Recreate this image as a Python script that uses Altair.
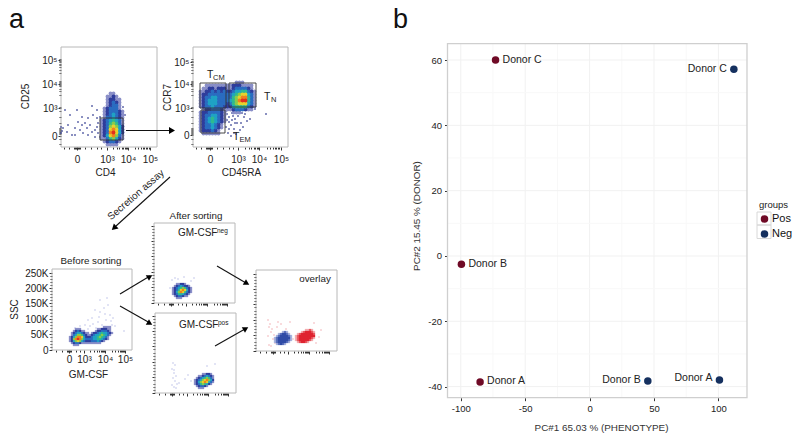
import altair as alt
import pandas as pd

FONT = "Liberation Sans"
DX, DY = 8, 8
W, H = 784, 425

# ---------- panel b: PCA ----------
pca_group = ["Pos", "Pos", "Pos", "Neg", "Neg", "Neg"]
pca_donor = ["Donor C", "Donor B", "Donor A", "Donor C", "Donor B", "Donor A"]
pca_x = [-73, -99.5, -85, 112, 45.2, 100.8]
pca_y = [60, -2.5, -38.6, 57.2, -38.3, -38]
pca_major_x = [-100, -50, 0, 50, 100]
pca_major_y = [-40, -20, 0, 20, 40, 60]
pca_labels_x = ["-100", "-50", "0", "50", "100"]
pca_labels_y = ["-40", "-20", "0", "20", "40", "60"]
pca_minor_x = [-75, -25, 25, 75]
pca_minor_y = [-30, -10, 10, 30, 50]

# ---------- panel a: tick positions on the biexponential display channel ----------
top_x_ticks = [16, 46, 67, 89]
top_x_labels = ["0", "10³", "10⁴", "10⁵"]
top_y_ticks = [11, 39, 63, 87]
top_y_labels = ["0", "10³", "10⁴", "10⁵"]
ccr_x_ticks = [17, 45, 66, 88]
ccr_y_ticks = [12, 39, 63, 85]
top_minor = [3, 8, 13, 14, 15, 16, 17, 18, 19, 24, 30, 36, 40, 52, 56, 58, 61, 62, 64, 65, 66,
             74, 77, 80, 82, 83, 85, 86, 88]
low_x_ticks = [17, 32, 53, 73]
low_x_labels = ["0", "10³", "10⁴", "10⁵"]
low_y_ticks = [0, 16, 31, 47, 62, 77]
low_y_labels = ["0", "50K", "100K", "150K", "200K", "250K"]
low_x_minor = [4, 10, 15, 16, 17, 18, 19, 24, 28, 38, 42, 45, 47, 49, 50, 51, 52, 60, 63, 66, 68, 69, 70, 71, 72]
low_y_minor = [3, 6, 9, 13, 19, 22, 25, 28, 34, 37, 40, 44, 50, 53, 56, 59, 65, 68, 71, 74]

# ---------- density levels read from each cloud (rows top to bottom, 0 = empty) ----------
dens_cd4 = ["00011000", "00112100", "00122110", "00123210", "00123310", "01233310",
            "01233321", "01234321", "01334321", "12345431", "12356531", "12367642",
            "12378742", "12389742", "12478631", "11356421", "01233210", "00111100"]
dens_ccr7 = ["0000000000001110000", "0011111111122211110", "0112212221123333210",
             "1122323232234455321", "1223333333345677431", "1233443333356788531",
             "1234443333456899531", "1234443332356777431", "1233433322245555321",
             "0122333211123332110", "1223333210011100000", "1233443210000000000",
             "1234543210000000000", "1234543210000000000", "1233432100000000000",
             "1233432100000000000", "1222321000000000000", "0111111000000000000"]
dens_before = ["0000000000000000011110", "0001110000000011222110", "0012321100000122333210",
               "0123443211012234544321", "0134665321123445654310", "1246887422234456543100",
               "1268986433334455432100", "1246764322233343210000", "0123321111111111000000",
               "0011100000000000000000"]
dens_neg = ["0011221000", "0123432210", "1234565321", "1235787421", "1246875321",
            "1235543210", "0123321100", "0011100000"]
dens_pos = ["0000112210", "0011234321", "0123456531", "1234678642", "1246787431",
            "1235654210", "0123321000", "0011100000"]
over_blue = ["000012100", "001233210", "012333321", "123333331", "123333321", "123333210", "012321000"]
over_red = ["0000011210", "0001233321", "0123333332", "1233333333", "1233333321", "1233333210", "0123321000"]

jet_levels = [1, 2, 3, 4, 5, 6, 7, 8, 9]
jet_colors = ["#8a8fc8", "#2f3d9c", "#2a6cc0", "#1fa2c4", "#2fb98f", "#86cb4e", "#e6d22e", "#f0821f", "#e0301f"]

# ---------- sparse events (display channel x, y) ----------
cd4_sparse_x = [4, 9, 16, 31, 21, 27, 32, 7, 14, 19, 6, 11, 22, 29, 34, 37, 39, 2, 26, 21, 17, 36, 62, 64, 34, 39, 27, 0, 0, 1, 14, 24, 31, 37, 36, 36]
cd4_sparse_y = [37, 32, 37, 41, 30, 29, 32, 22, 19, 17, 15, 12, 14, 22, 17, 24, 30, 19, 19, 22, 25, 37, 40, 32, 10, 10, 12, 20, 14, 16, 12, 24, 15, 14, 29, 20]
ccr_sparse_x = [33, 36, 39, 42, 45, 48, 51, 54, 38, 41, 44, 47, 35, 50, 57, 73, 62, 34, 43, 38, 30, 34, 37, 40, 43, 46, 49, 36, 39, 42, 33, 52, 36, 41]
ccr_sparse_y = [36, 30, 34, 28, 31, 24, 30, 26, 22, 18, 24, 17, 14, 20, 28, 33, 38, 27, 13, 11, 39, 33, 37, 31, 35, 37, 34, 25, 27, 24, 20, 33, 18, 14]
before_sparse_x = [33, 40, 46, 48, 52, 56, 58, 43, 36, 50, 54, 60, 44, 38, 28, 23, 56, 61, 48, 55, 72, 41, 47, 53, 59, 63, 36]
before_sparse_y = [25, 32, 28, 38, 42, 45, 35, 40, 30, 25, 30, 25, 22, 24, 24, 22, 22, 32, 50, 52, 19, 26, 33, 36, 29, 24, 21]
neg_sparse_x = [18, 21, 24, 30, 37, 40, 16, 27, 34]
neg_sparse_y = [23, 25, 24, 26, 22, 25, 15, 8, 18]
pos_sparse_x = [18, 20, 17, 19, 21, 18, 20, 22, 17, 19, 24, 30, 33, 36, 52, 60, 19, 21]
pos_sparse_y = [30, 28, 24, 20, 17, 15, 12, 9, 8, 6, 10, 14, 18, 12, 27, 29, 23, 5]
over_pink_x = [12, 14, 13, 16, 15, 18, 17, 20, 19, 13, 15, 21, 25, 30, 34, 58, 60, 37, 12, 22, 63, 65]
over_pink_y = [31, 27, 24, 22, 19, 16, 12, 10, 8, 6, 5, 24, 27, 22, 29, 28, 8, 12, 15, 29, 14, 21]


def grid(rows, x0, ytop, cell):
    out = []
    for j, row in enumerate(rows):
        for i, ch in enumerate(row):
            if ch != "0":
                out.append({"x": x0 + (i + 0.5) * cell, "y": ytop - (j + 0.5) * cell, "v": int(ch)})
    return pd.DataFrame(out).sort_values("v")


def label_expr(ticks, labels):
    parts = "".join(f"datum.value=={t}?'{l}':" for t, l in zip(ticks, labels))
    return parts + "''"


one = pd.DataFrame({"a": [0]})
layers = []


def T(px, py, text, size=9.8, align="center", angle=0, color="#222222", baseline="middle"):
    layers.append(alt.Chart(one).mark_text(
        text=text, font=FONT, fontSize=size, align=align, baseline=baseline, angle=angle, color=color
    ).encode(x=alt.value(px - DX), y=alt.value(py - DY)))


def arrow(x0, y0, x1, y1, hx, hy, shape, angle=0, size=42):
    layers.append(alt.Chart(one).mark_rule(color="#111111", strokeWidth=1.1).encode(
        x=alt.value(x0 - DX), x2=alt.value(x1 - DX), y=alt.value(y0 - DY), y2=alt.value(y1 - DY)))
    layers.append(alt.Chart(one).mark_point(shape=shape, filled=True, color="#000000", size=size,
                                            angle=angle, opacity=1).encode(
        x=alt.value(hx - DX), y=alt.value(hy - DY)))


def box(l, t, r, b, color, width=1.0):
    layers.append(alt.Chart(one).mark_rect(fill="transparent", stroke=color, strokeWidth=width).encode(
        x=alt.value(l - DX), x2=alt.value(r - DX), y=alt.value(t - DY), y2=alt.value(b - DY)))


class Panel:
    def __init__(self, l, t, w, h):
        self.l, self.t, self.w, self.h = l, t, w, h
        self.sx = alt.Scale(domain=[0, w], range=[l - DX, l + w - DX], nice=False, zero=False)
        self.sy = alt.Scale(domain=[0, h], range=[t + h - DY, t - DY], nice=False, zero=False)

    def X(self, f="x", axis=None):
        return alt.X(f"{f}:Q", scale=self.sx, axis=axis)

    def Y(self, f="y", axis=None):
        return alt.Y(f"{f}:Q", scale=self.sy, axis=axis)

    def axes(self, xt, xl, yt, yl, xminor, yminor, xtitle=None, ytitle=None, xtx=None, yty=None,
             xpad=4, ypad=4, fs=10, xlp=4):
        common = dict(domain=False, grid=False, tickColor="#333333", labelFont=FONT, labelFontSize=fs,
                      labelColor="#222222", titleFont=FONT, titleFontSize=fs, titleFontWeight="normal",
                      titleColor="#222222", labelOverlap=False, labelFlush=False)
        bx = dict(orient="bottom", offset=self.t + self.h - DY - H)
        ly = dict(orient="left", offset=-(self.l - DX))
        xkw = dict(values=xt, tickSize=3, labelPadding=xlp, **common, **bx)
        if xl:
            xkw["labelExpr"] = label_expr(xt, xl)
        else:
            xkw["labels"] = False
        ykw = dict(values=yt, tickSize=3, labelPadding=1, **common, **ly)
        if yl:
            ykw["labelExpr"] = label_expr(yt, yl)
        else:
            ykw["labels"] = False
        if xtitle:
            xkw.update(title=xtitle, titlePadding=xpad)
            if xtx is not None:
                xkw["titleX"] = xtx - DX
        else:
            xkw["title"] = None
        if ytitle:
            ykw.update(title=ytitle, titlePadding=ypad)
            if yty is not None:
                ykw["titleY"] = yty - DY
        else:
            ykw["title"] = None
        layers.append(alt.Chart(one.assign(x=0, y=0)).mark_point(opacity=0).encode(
            x=self.X(axis=alt.Axis(**xkw)), y=self.Y(axis=alt.Axis(**ykw))))
        mx = dict(values=xminor, tickSize=2, labels=False, title=None, **common, **bx)
        my = dict(values=yminor, tickSize=2, labels=False, title=None, **common, **ly)
        layers.append(alt.Chart(one.assign(x=0, y=0)).mark_point(opacity=0).encode(
            x=self.X(axis=alt.Axis(**mx)), y=self.Y(axis=alt.Axis(**my))))

    def sparse(self, xs, ys, color="#3c4596", size=2.5):
        df = pd.DataFrame({"x": xs, "y": ys})
        layers.append(alt.Chart(df).mark_square(size=size, color=color, opacity=1).encode(
            x=self.X(), y=self.Y()))

    def density(self, rows, x0, ytop, cell, levels=jet_levels, colors=jet_colors):
        df = grid(rows, x0, ytop, cell)
        layers.append(alt.Chart(df).mark_circle(size=cell * cell * 1.7, opacity=1).encode(
            x=self.X(), y=self.Y(),
            color=alt.Color("v:O", scale=alt.Scale(domain=levels, range=colors), legend=None),
            order=alt.Order("v:Q")))

    def gates(self, rects):
        df = pd.DataFrame(rects, columns=["x", "x2", "y", "y2"])
        layers.append(alt.Chart(df).mark_rect(fill="transparent", stroke="#333333", strokeWidth=0.9).encode(
            x=self.X(), x2=alt.X2("x2"), y=self.Y(), y2=alt.Y2("y2")))


FRAME = "#b8b8b8"

# ---- CD25 / CD4 ----
p = Panel(61, 47, 96, 100)
box(61, 47, 157, 147, FRAME)
p.axes(top_x_ticks, top_x_labels, top_y_ticks, top_y_labels, top_minor, top_minor,
       xtitle="CD4", ytitle="CD25", xtx=105, yty=96, xpad=3, ypad=11)
p.sparse(cd4_sparse_x, cd4_sparse_y)
p.density(dens_cd4, 39, 55, 3)
p.gates([[39, 62, 7, 29]])

# ---- CCR7 / CD45RA ----
p = Panel(193, 47, 95, 100)
box(193, 47, 288, 147, FRAME)
p.axes(ccr_x_ticks, top_x_labels, ccr_y_ticks, top_y_labels, top_minor, top_minor,
       xtitle="CD45RA", ytitle="CCR7", xtx=241, yty=97, xpad=3, ypad=1)
p.sparse(ccr_sparse_x, ccr_sparse_y)
p.density(dens_ccr7, 6, 66, 3)
p.gates([[7, 33, 39, 64], [8, 32, 14, 37], [36, 63, 40, 64]])

# ---- Before sorting ----
p = Panel(52, 269, 80, 81)
box(52, 269, 132, 350, FRAME)
p.axes(low_x_ticks, low_x_labels, low_y_ticks, low_y_labels, low_x_minor, low_y_minor,
       xtitle="GM-CSF", ytitle="SSC", xtx=88, yty=309, xpad=5, ypad=5, xlp=1)
p.sparse(before_sparse_x, before_sparse_y, color="#cfd2ee")
p.density(dens_before, 17, 24, 2)

# ---- After sorting, GM-CSF neg ----
p = Panel(154, 223, 81, 80)
box(154, 223, 235, 303, FRAME)
p.axes(low_x_ticks, None, low_y_ticks, None, low_x_minor, low_y_minor)
p.sparse(neg_sparse_x, neg_sparse_y, color="#cfd2ee")
p.density(dens_neg, 18, 20, 2)

# ---- After sorting, GM-CSF pos ----
p = Panel(155, 313, 81, 80)
box(155, 313, 236, 393, FRAME)
p.axes(low_x_ticks, None, low_y_ticks, None, low_x_minor, low_y_minor)
p.sparse(pos_sparse_x, pos_sparse_y, color="#cfd2ee")
p.density(dens_pos, 39, 20, 2)

# ---- overlay ----
p = Panel(256, 270, 81, 81)
box(256, 270, 337, 351, FRAME)
p.axes(low_x_ticks, None, low_y_ticks, None, low_x_minor, low_y_minor)
p.sparse(over_pink_x, over_pink_y, color="#f5c3c6")
p.density(over_blue, 18, 20, 2, [1, 2, 3], ["#a9b4dc", "#5a70bd", "#2f4ba6"])
p.density(over_red, 39, 22, 2, [1, 2, 3], ["#f2aeb1", "#e85a60", "#df2430"])

# ---- annotations, panel a ----
T(9, 28, "a", 27, "left", baseline="alphabetic", color="#111111")
T(207, 75, "T", 10.5, "left"); T(213, 77.5, "CM", 7.5, "left")
T(264, 97, "T", 10.5, "left"); T(271, 99.5, "N", 7.5, "left")
T(233, 137, "T", 10.5, "left"); T(239.5, 139.5, "EM", 7.5, "left")
T(91, 261, "Before sorting")
T(196, 215.5, "After sorting")
T(178, 233, "GM-CSF", 10, "left"); T(217, 231, "neg", 6.5, "left")
T(179, 325, "GM-CSF", 10, "left"); T(218, 323, "pos", 6.5, "left")
T(315, 279, "overlay")
T(136, 195, "Secretion assay", 10, angle=319)
arrow(126, 130.5, 170, 130.5, 172, 130.5, "triangle-right", size=48)
arrow(170, 177, 116, 226, 114, 228, "triangle-up", angle=227, size=48)
arrow(120, 294, 150, 276, 149, 278, "triangle-down")
arrow(120, 306, 150, 323, 149, 322, "triangle-up")
arrow(217, 266, 246, 283, 246, 282, "triangle-up")
arrow(215, 346, 245, 329, 245, 330, "triangle-down")

# ---- panel b ----
T(393, 28, "b", 27, "left", baseline="alphabetic", color="#111111")
bx = alt.Scale(domain=[-110.3, 122.2], range=[447.5 - DX, 747 - DX], nice=False, zero=False)
by = alt.Scale(domain=[-43.4, 65], range=[397.7 - DY, 43.7 - DY], nice=False, zero=False)
GRID_MAJOR, GRID_MINOR = "#f1f1f1", "#f8f8f8"
for vals, col in ((pca_minor_x, GRID_MINOR), (pca_major_x, GRID_MAJOR)):
    layers.append(alt.Chart(pd.DataFrame({"x": vals})).mark_rule(color=col, strokeWidth=1).encode(
        x=alt.X("x:Q", scale=bx, axis=None), y=alt.value(43.7 - DY), y2=alt.value(397.7 - DY)))
for vals, col in ((pca_minor_y, GRID_MINOR), (pca_major_y, GRID_MAJOR)):
    layers.append(alt.Chart(pd.DataFrame({"y": vals})).mark_rule(color=col, strokeWidth=1).encode(
        y=alt.Y("y:Q", scale=by, axis=None), x=alt.value(447.5 - DX), x2=alt.value(747 - DX)))
box(447.5, 43.7, 747, 397.7, "#cfcfcf", 1.3)

axis_common = dict(domain=False, grid=False, tickColor="#333333", tickSize=3, labelFont=FONT, labelFontSize=9.5,
                   labelColor="#222222", titleFont=FONT, titleFontSize=9.9, titleFontWeight="normal",
                   titleColor="#333333", labelOverlap=False)
pca = pd.DataFrame({"x": pca_x, "y": pca_y, "group": pca_group, "donor": pca_donor})
layers.append(alt.Chart(pca).mark_circle(size=56, opacity=1).encode(
    x=alt.X("x:Q", scale=bx, axis=alt.Axis(values=pca_major_x, orient="bottom", offset=397.7 - DY - H,
                                           labelExpr=label_expr(pca_major_x, pca_labels_x),
                                           title="PC#1 65.03 % (PHENOTYPE)", titlePadding=9, labelPadding=3,
                                           titleX=601 - DX, **axis_common)),
    y=alt.Y("y:Q", scale=by, axis=alt.Axis(values=pca_major_y, orient="left", offset=-(447.5 - DX),
                                           labelExpr=label_expr(pca_major_y, pca_labels_y),
                                           title="PC#2 15.45 % (DONOR)", titlePadding=6, labelPadding=3,
                                           titleY=215.5 - DY, **axis_common)),
    color=alt.Color("group:N", scale=alt.Scale(domain=["Pos", "Neg"], range=["#6f0a26", "#15305f"]),
                    legend=alt.Legend(title="groups", orient="none", legendX=759 - DX, legendY=200 - DY,
                                      symbolType="circle", symbolSize=56, symbolOpacity=1,
                                      labelFont=FONT, labelFontSize=11, labelColor="#111111",
                                      titleFont=FONT, titleFontSize=9.5, titleFontWeight="normal",
                                      titleColor="#222222", titlePadding=4, rowPadding=3, labelOffset=2)),
))
# legend keys
box(757, 212, 771, 225, "#d8d8d8")
box(757, 225, 771, 238.5, "#d8d8d8")

label_place = [(0, 7, 0, "left"), (1, 7, 0, "left"), (2, 7, -1, "left"),
               (3, -7, 0, "right"), (4, -7, -1, "right"), (5, -7, -2, "right")]
for idx, dx, dy, al in label_place:
    layers.append(alt.Chart(pca.iloc[[idx]]).mark_text(
        font=FONT, fontSize=10.5, color="#222222", align=al, baseline="middle", dx=dx, dy=dy
    ).encode(x=alt.X("x:Q", scale=bx, axis=None), y=alt.Y("y:Q", scale=by, axis=None), text="donor:N"))

chart = alt.layer(*layers).resolve_scale(x="independent", y="independent", color="independent").properties(
    width=W, height=H, padding=0, autosize=alt.AutoSizeParams(type="none"), background="white"
).configure_view(stroke=None)

chart.save("out.html", embed_options={"renderer": "svg", "actions": False})
